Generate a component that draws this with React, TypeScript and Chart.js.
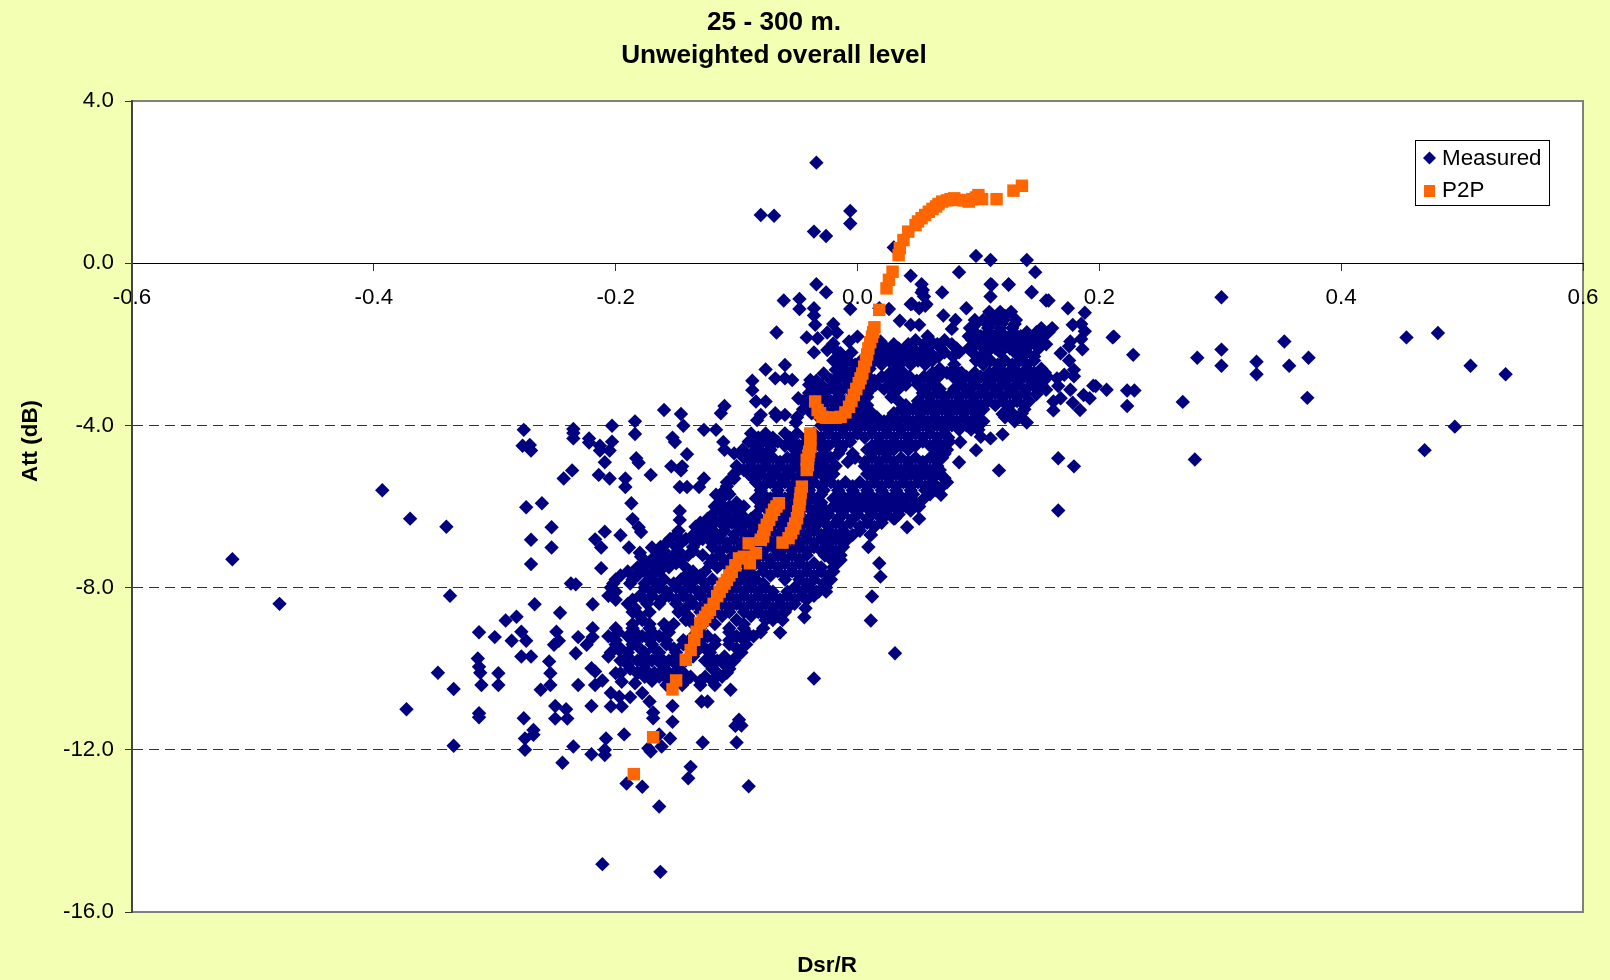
import React, { useEffect, useRef } from "react";
import { Chart, registerables } from "chart.js";

Chart.register(...registerables);

const chartTitle = ["25 - 300 m.", "Unweighted overall level"];
const xAxisTitle = "Dsr/R";
const yAxisTitle = "Att (dB)";
const seriesNames = ["Measured", "P2P"];

// Measured: scattered points read one by one [Dsr/R, Att]
const measuredScatter: number[][] = [
  [-.517,-7.3],[-.478,-8.4],[-.393,-5.6],[-.37,-6.3],[-.34,-6.5],[-.337,-8.2],[-.347,-10.1],[-.373,-11],[-.334,-10.5],[-.334,-11.9],
  [-.313,-9.1],[-.314,-9.75],[-.313,-9.95],[-.312,-10.1],[-.3,-9.22],[-.297,-10.11],[-.297,-10.4],[-.313,-11.1],[-.313,-11.2],
  [-.291,-8.81],[-.282,-8.72],[-.286,-9.31],[-.278,-9.09],[-.274,-9.31],[-.278,-9.7],[-.27,-9.7],[-.276,-11.22],[-.268,-11.51],[-.268,-11.63],[-.275,-11.72],[-.275,-12],
  [-.276,-4.11],[-.235,-4.09],[-.235,-4.19],[-.235,-4.32],[-.277,-4.5],[-.271,-4.48],[-.27,-4.62],[-.222,-4.32],[-.222,-4.42],[-.203,-4.01],[-.203,-4.4],
  [-.213,-4.5],[-.213,-4.62],[-.205,-4.62],[-.184,-3.9],[-.184,-4.21],[-.16,-3.62],[-.146,-3.72],[-.144,-4.01],[-.153,-4.3],[-.151,-4.41],[-.127,-4.11],[-.117,-4.11],
  [-.11,-3.52],[-.113,-3.7],[-.111,-4.41],[-.11,-4.6],[-.102,-4.69],[-.141,-4.71],[-.209,-4.91],[-.183,-4.81],[-.181,-4.92],[-.236,-5.11],[-.243,-5.31],[-.214,-5.22],[-.205,-5.31],
  [-.171,-5.22],[-.154,-5.01],[-.145,-5.01],[-.146,-5.11],[-.192,-5.31],[-.192,-5.52],[-.147,-5.52],[-.141,-5.52],[-.131,-5.52],[-.127,-5.31],[-.102,-5.31],[-.117,-5.71],[-.108,-5.63],
  [-.187,-5.92],[-.274,-6.02],[-.261,-5.92],[-.147,-6.11],[-.147,-6.33],[-.186,-6.31],[-.253,-6.51],[-.181,-6.51],[-.179,-6.63],[-.209,-6.62],[-.196,-6.71],[-.217,-6.81],[-.212,-7.01],
  [-.27,-6.82],[-.253,-7.01],[-.189,-7.01],[-.17,-7.01],[-.18,-7.14],[-.179,-7.24],[-.27,-7.42],[-.212,-7.52],[-.17,-7.42],[-.233,-7.92],[-.237,-7.9],[-.267,-8.41],[-.219,-8.41],[-.246,-8.62],
  [-.249,-9.09],[-.247,-9.31],[-.251,-9.41],[-.231,-9.22],[-.224,-9.41],[-.219,-9.22],[-.219,-9],[-.233,-9.62],[-.255,-9.82],[-.254,-10.11],[-.311,-10.4],
  [-.254,-10.4],[-.262,-10.52],[-.231,-10.4],[-.217,-10.4],[-.211,-10.29],[-.22,-9.99],[-.217,-10.07],[-.206,-9.7],[-.197,-9.54],[-.196,-10.11],[-.195,-10.32],[-.2,-10.11],
  [-.184,-10.36],[-.182,-10.11],[-.204,-10.6],[-.197,-10.69],[-.188,-10.7],[-.178,-10.6],[-.172,-10.81],[-.195,-10.93],[-.204,-10.93],[-.22,-10.92],[-.25,-10.92],[-.241,-11],[-.25,-11.23],[-.24,-11.23],
  [-.235,-11.92],[-.22,-12.11],[-.209,-12],[-.209,-12.13],[-.244,-12.32],[-.208,-11.72],[-.193,-11.62],[-.169,-11.08],[-.169,-11.22],[-.153,-10.92],[-.153,-11.31],[-.164,-11.62],[-.155,-11.72],
  [-.162,-11.92],[-.173,-11.96],[-.171,-12.04],[-.138,-12.42],[-.14,-12.7],[-.191,-12.83],[-.178,-12.91],[-.164,-13.4],[-.211,-14.82],[-.163,-15.01],[-.105,-10.52],[-.129,-10.81],[-.124,-10.81],
  [-.128,-11.82],[-.1,-11.82],[-.101,-11.41],[-.098,-11.26],[-.096,-11.4],[-.09,-12.9],[-.036,-10.24],[.031,-9.62],[.011,-8.81],[.012,-8.22],[.018,-7.4],[.019,-7.73],[.009,-7],
  [-.043,-8.51],[-.044,-8.73],[-.062,-8.8],[-.064,-9.11],[-.075,-8.72],[-.027,-6.76],[-.025,-6.99],[-.027,-7.21],[-.014,-7.32],[-.011,-6.74],[.011,-6.7],[-.026,-8.1],[-.032,-8.1],
  [-.034,2.48],[-.08,1.19],[-.069,1.17],[-.006,1.29],[-.006,.98],[-.036,.78],[-.026,.67],[.03,.39],[.098,.18],[.11,.08],[.14,.08],[.084,-.22],[.147,-.22],[.044,-.31],[.053,-.52],[.11,-.52],[.125,-.52],
  [-.034,-.52],[-.026,-.72],[.07,-.72],[.144,-.72],[.053,-.72],[-.061,-.92],[-.048,-.88],[-.048,-1.13],[-.036,-1.11],[-.006,-1.13],[.026,-1.13],[.018,-1.11],[.156,-.92],[.044,-1.01],[.051,-1.11],[.057,-1.01],
  [.09,-1.11],[-.036,-1.29],[-.035,-1.52],[.071,-1.29],[.081,-1.4],[.078,-1.62],[.097,-1.4],[.035,-1.42],[.044,-1.52],[.051,-1.52],[-.02,-1.5],[-.025,-1.71],[-.017,-1.71],[-.067,-1.71],[-.042,-1.83],[-.036,-2.2],
  [-.076,-2.62],[-.06,-2.51],[-.068,-2.84],[-.06,-2.84],[-.054,-2.88],[-.087,-2.9],[-.087,-3.13],[-.084,-3.41],[-.076,-3.41],[-.049,-3.33],[-.08,-3.74],[-.083,-3.87],[-.068,-3.7],[-.06,-3.74],[-.067,-3.78],[-.051,-3.93],
  [-.039,-2.88],[-.028,-2.72],[-.018,-2.63],[-.033,-3.13],[-.022,-2.88],[0,-1.81],[-.007,-1.93],[-.02,-1.98],[-.025,-2.14],[-.033,-1.85],[-.014,-2.22],[.019,-1.93],[.016,-2.14],
  [.111,-.53],[.144,-.71],[.158,-.92],[.174,-1.11],[.188,-1.22],[.125,-.53],[.11,-.82],[.054,-.66],[.055,-.82],[.045,-1],[.056,-1.05],[.212,-1.81],[.178,-1.52],[.185,-1.5],[.188,-1.68],[.185,-1.87],
  [.176,-1.93],[.175,-2.05],[.186,-2.12],[.168,-2.22],[.175,-2.4],[.179,-2.63],[.171,-2.75],[.179,-2.79],[.165,-2.84],[.197,-3.03],[.206,-3.12],[.166,-3.03],[.176,-3.12],[.187,-3.25],[.192,-3.33],
  [.168,-3.33],[.162,-3.41],[.162,-3.63],[.178,-3.44],[.184,-3.62],[.148,-3.23],[.156,-3.12],[.14,-3.93],[.12,-3.72],[.12,-4.22],[.11,-4.32],[.102,-4.28],[.099,-3.82],[.1,-4.11],[.085,-4.41],[.098,-4.61],
  [.084,-4.91],[.117,-5.11],[.166,-4.81],[.179,-5.01],[.166,-6.1],[.069,-5.71],[.051,-6],[.051,-6.3],[.041,-6.51],[.031,-6.29],[.019,-6.27],[.011,-6.7],
  [.228,-2.26],[.211,-1.83],[.223,-3.14],[.229,-3.14],[.223,-3.52],[.195,-3.02],[.269,-3.42],[.281,-2.33],[.279,-4.84],[.301,-.84],[.301,-2.13],[.301,-2.53],[.33,-2.43],[.33,-2.74],[.353,-1.93],[.357,-2.53],
  [.373,-2.33],[.372,-3.32],[.454,-1.83],[.48,-1.72],[.507,-2.53],[.536,-2.74],[.494,-4.03],[.469,-4.61],
];

// Measured: dense band, read row by row [Att, Dsr/R values]
const measuredBand: [number, number[]][] = [
  [-1.2,[.109,.118,.127]],
  [-1.3,[.112,.122]],
  [-1.4,[.104,.113,.121,.131]],
  [-1.5,[.098,.109,.119,.13]],
  [-1.6,[.093,.108,.118,.128,.152,.161]],
  [-1.7,[.097,.108,.118,.129,.14,.148,.158]],
  [-1.8,[.058,.092,.102,.113,.122,.135,.143,.154]],
  [-1.9,[.048,.06,.072,.095,.107,.116,.127,.138,.149]],
  [-2,[.03,.042,.055,.066,.078,.098,.11,.12,.132,.143,.156]],
  [-2.1,[.024,.034,.046,.058,.069,.082,.092,.104,.114,.126,.137,.15]],
  [-2.2,[-.016,-.005,.018,.028,.04,.052,.06,.072,.084,.095,.107,.118,.13,.14]],
  [-2.3,[-.012,.008,.022,.034,.046,.056,.067,.079,.102,.136,.146]],
  [-2.4,[-.02,-.008,.003,.014,.026,.038,.05,.062,.098,.11,.122,.134,.146]],
  [-2.5,[-.014,-.002,.008,.02,.032,.044,.056,.08,.104,.116,.128,.14]],
  [-2.6,[-.012,-.001,.01,.033,.068,.08,.116,.128,.14,.152]],
  [-2.7,[-.006,.004,.027,.038,.062,.074,.086,.097,.109,.121,.133,.146,.155]],
  [-2.8,[-.014,-.003,.009,.02,.032,.043,.055,.067,.079,.09,.102,.114,.126,.138,.15,.157]],
  [-2.9,[-.034,-.02,-.008,.003,.014,.026,.037,.049,.061,.084,.096,.108,.12,.132,.144,.154]],
  [-3,[-.04,-.03,-.018,-.006,.006,.015,.028,.04,.05,.062,.086,.097,.11,.122,.133,.145,.152]],
  [-3.1,[-.034,-.023,-.012,0,.011,.022,.034,.056,.068,.08,.092,.104,.116,.128,.14,.149]],
  [-3.2,[-.04,-.028,-.016,-.004,.008,.03,.054,.066,.078,.09,.102,.114,.126,.138]],
  [-3.3,[-.04,-.028,-.016,-.004,.008,.028,.06,.072,.084,.096,.108,.12,.132]],
  [-3.4,[-.045,-.034,-.022,-.01,.002,.034,.05,.06,.072,.084,.096,.108,.12,.132,.142]],
  [-3.5,[-.04,-.028,-.016,-.004,.008,.04,.054,.066,.078,.09,.102,.114,.126,.138]],
  [-3.6,[-.045,-.03,-.018,-.006,.006,.036,.046,.058,.07,.082,.094,.104,.124,.138]],
  [-3.7,[-.038,-.024,-.012,0,.012,.03,.04,.052,.064,.076,.088,.1,.128,.136]],
  [-3.8,[-.05,-.032,-.02,-.008,.004,.016,.028,.04,.052,.064,.076,.088,.098,.122,.134]],
  [-3.9,[-.026,-.014,-.002,.01,.022,.034,.046,.058,.07,.082,.094,.104,.13]],
  [-4,[-.03,-.018,-.006,.006,.018,.03,.042,.054,.066,.078,.09,.1]],
  [-4.1,[-.024,-.012,0,.012,.024,.036,.048,.06,.072,.084,.094]],
  [-4.2,[-.088,-.076,-.06,-.05,-.036,-.024,-.012,0,.012,.024,.036,.048,.06,.072]],
  [-4.3,[-.082,-.07,-.056,-.042,-.03,-.018,-.006,.006,.018,.03,.042,.054,.066,.075]],
  [-4.4,[-.09,-.078,-.066,-.054,-.042,-.03,-.018,-.006,.018,.03,.042,.054,.066,.076]],
  [-4.5,[-.084,-.072,-.06,-.048,-.036,-.024,-.012,.012,.024,.036,.048,.06,.072]],
  [-4.6,[-.095,-.082,-.072,-.052,-.04,-.028,-.014,.008,.018,.03,.042,.064,.074]],
  [-4.7,[-.088,-.076,-.05,-.04,-.028,-.016,-.004,.012,.024,.064,.072]],
  [-4.8,[-.094,-.082,-.07,-.058,-.046,-.034,-.022,-.002,.012,.024,.036,.048,.06,.07]],
  [-4.9,[-.088,-.076,-.064,-.052,-.04,-.028,-.008,.006,.018,.03,.042,.054,.066]],
  [-5,[-.1,-.088,-.076,-.064,-.052,-.04,-.03,-.018,.006,.018,.03,.042,.054,.066]],
  [-5.1,[-.094,-.082,-.07,-.058,-.046,-.034,-.024,.012,.024,.036,.048,.06,.068]],
  [-5.2,[-.102,-.09,-.08,-.068,-.056,-.044,-.03,-.02,.008,.02,.032,.044,.056,.068]],
  [-5.3,[-.104,-.086,-.074,-.062,-.05,-.038,-.026,.014,.026,.038,.05,.062,.072]],
  [-5.4,[-.108,-.084,-.072,-.06,-.048,-.036,-.022,-.01,.002,.014,.026,.038,.05,.062,.074]],
  [-5.5,[-.108,-.078,-.066,-.054,-.042,-.03,-.016,-.004,.008,.02,.032,.044,.056,.07]],
  [-5.6,[-.11,-.08,-.066,-.054,-.04,-.028,-.016,-.004,.008,.02,.032,.044,.056,.065]],
  [-5.7,[-.106,-.078,-.066,-.054,-.042,-.03,-.014,-.002,.01,.022,.034,.046,.06]],
  [-5.8,[-.112,-.084,-.072,-.06,-.048,-.036,-.02,-.008,.004,.016,.028,.04,.055]],
  [-5.9,[-.114,-.1,-.078,-.066,-.054,-.042,-.03,-.014,-.002,.01,.022,.034,.048]],
  [-6,[-.118,-.106,-.094,-.08,-.068,-.056,-.044,-.032,-.02,-.008,.004,.016,.028,.04,.05]],
  [-6.1,[-.112,-.1,-.074,-.062,-.05,-.038,-.026,-.014,-.002,.01,.022,.034,.044]],
  [-6.2,[-.12,-.108,-.096,-.084,-.072,-.06,-.048,-.034,-.024,-.012,0,.012,.024,.034]],
  [-6.3,[-.124,-.112,-.1,-.088,-.076,-.064,-.052,-.04,-.028,-.016,-.004,.008,.02,.03]],
  [-6.4,[-.13,-.118,-.104,-.092,-.08,-.068,-.056,-.044,-.032,-.018,-.006,.008,.02]],
  [-6.5,[-.134,-.124,-.11,-.098,-.086,-.074,-.062,-.05,-.038,-.024,-.012,.002,.014]],
  [-6.6,[-.148,-.13,-.12,-.11,-.096,-.084,-.072,-.06,-.048,-.036,-.024,-.012,.002]],
  [-6.7,[-.15,-.136,-.124,-.116,-.102,-.09,-.078,-.066,-.054,-.042,-.03,-.018,-.004]],
  [-6.8,[-.155,-.142,-.128,-.114,-.102,-.09,-.078,-.066,-.054,-.042,-.03,-.018,-.008]],
  [-6.9,[-.158,-.146,-.134,-.12,-.108,-.096,-.084,-.072,-.06,-.048,-.036,-.024,-.012]],
  [-7,[-.163,-.15,-.136,-.12,-.108,-.096,-.084,-.07,-.06,-.048,-.036,-.024,-.012]],
  [-7.1,[-.16,-.148,-.136,-.114,-.102,-.09,-.078,-.064,-.054,-.042,-.03,-.018]],
  [-7.2,[-.165,-.152,-.14,-.128,-.114,-.1,-.09,-.078,-.066,-.054,-.042,-.014]],
  [-7.3,[-.17,-.158,-.146,-.12,-.106,-.094,-.084,-.072,-.06,-.048,-.022]],
  [-7.4,[-.175,-.162,-.15,-.122,-.11,-.098,-.084,-.072,-.06,-.048,-.036,-.018]],
  [-7.5,[-.182,-.168,-.156,-.142,-.116,-.104,-.09,-.078,-.066,-.054,-.042,-.03,-.02]],
  [-7.6,[-.19,-.176,-.164,-.136,-.126,-.104,-.092,-.078,-.066,-.054,-.042,-.03,-.02]],
  [-7.7,[-.196,-.182,-.17,-.142,-.13,-.098,-.086,-.072,-.06,-.048,-.036,-.024]],
  [-7.8,[-.2,-.186,-.172,-.16,-.146,-.134,-.12,-.106,-.094,-.084,-.06,-.048,-.036,-.022]],
  [-7.9,[-.202,-.188,-.176,-.166,-.152,-.14,-.126,-.112,-.1,-.09,-.078,-.042,-.028]],
  [-8,[-.204,-.176,-.164,-.15,-.138,-.126,-.112,-.1,-.088,-.076,-.052,-.04,-.026]],
  [-8.1,[-.2,-.17,-.158,-.144,-.132,-.12,-.106,-.094,-.082,-.07,-.058,-.046,-.034]],
  [-8.2,[-.206,-.18,-.17,-.156,-.144,-.13,-.118,-.106,-.094,-.082,-.07,-.058,-.046,-.036]],
  [-8.3,[-.2,-.186,-.176,-.162,-.15,-.138,-.124,-.112,-.1,-.088,-.076,-.064,-.052,-.042]],
  [-8.4,[-.19,-.174,-.164,-.15,-.136,-.124,-.112,-.1,-.088,-.076,-.064,-.052]],
  [-8.5,[-.184,-.142,-.13,-.118,-.106,-.094,-.082,-.07,-.058]],
  [-8.6,[-.186,-.172,-.148,-.13,-.118,-.106,-.094,-.082,-.07,-.06]],
  [-8.7,[-.18,-.14,-.124,-.112,-.088,-.076,-.066]],
  [-8.8,[-.178,-.142,-.124,-.1,-.076,-.07]],
  [-8.9,[-.186,-.172,-.16,-.152,-.136,-.118,-.094]],
  [-9,[-.2,-.186,-.172,-.158,-.13,-.106,-.094,-.078]],
  [-9.1,[-.198,-.184,-.17,-.156,-.13,-.106,-.092,-.08]],
  [-9.2,[-.206,-.19,-.178,-.164,-.136,-.124,-.1,-.086]],
  [-9.3,[-.2,-.184,-.172,-.158,-.144,-.13,-.118,-.106,-.094]],
  [-9.4,[-.2,-.186,-.17,-.158,-.144,-.13,-.118,-.106,-.092]],
  [-9.5,[-.196,-.18,-.168,-.152,-.138,-.126,-.1]],
  [-9.6,[-.204,-.19,-.176,-.164,-.15,-.134,-.122,-.096]],
  [-9.7,[-.19,-.176,-.164,-.15,-.136,-.122,-.11,-.1]],
  [-9.8,[-.196,-.182,-.17,-.156,-.142,-.126,-.116,-.102]],
  [-9.9,[-.19,-.176,-.162,-.15,-.122,-.11]],
  [-10,[-.188,-.176,-.16,-.148,-.12,-.106]],
  [-10.1,[-.182,-.168,-.156,-.144,-.116,-.108]],
  [-10.2,[-.176,-.164,-.15,-.138,-.126,-.112]],
  [-10.3,[-.17,-.156,-.142,-.13,-.12]],
  [-10.4,[-.158,-.145,-.13,-.118]],
];

// P2P prediction [Dsr/R, Att]
const p2pPoints: number[][] = [
  [-.185,-12.6],[-.169,-11.69],[-.153,-10.51],[-.15,-10.29],[-.142,-9.78],[-.138,-9.54],[-.135,-9.29],[-.133,-9.09],[-.13,-8.88],[-.128,-8.8],[-.126,-8.72],[-.124,-8.62],[-.122,-8.55],[-.119,-8.4],[-.116,-8.21],[-.114,-8.1],[-.112,-7.98],[-.11,-7.9],
  [-.108,-7.81],[-.106,-7.7],[-.104,-7.61],[-.101,-7.45],[-.098,-7.28],[-.094,-7.24],[-.089,-7.4],[-.09,-6.91],[-.084,-7.15],[-.08,-6.82],[-.078,-6.74],[-.077,-6.58],[-.075,-6.45],[-.073,-6.33],[-.071,-6.2],[-.069,-6.08],[-.067,-6],[-.065,-5.92],
  [-.062,-6.89],[-.057,-6.78],[-.055,-6.66],[-.053,-6.54],[-.0515,-6.42],[-.05,-6.29],[-.049,-6.12],[-.048,-5.96],[-.0475,-5.82],[-.047,-5.67],[-.046,-5.51],[-.042,-5.1],[-.041,-4.98],[-.042,-4.85],[-.0405,-4.75],[-.04,-4.65],[-.039,-4.53],[-.039,-4.36],[-.039,-4.2],
  [-.035,-3.41],[-.033,-3.62],[-.031,-3.7],[-.029,-3.79],[-.026,-3.81],[-.022,-3.81],[-.018,-3.81],[-.014,-3.79],[-.01,-3.68],[-.007,-3.54],[-.005,-3.4],[-.003,-3.25],[-.001,-3.1],[.001,-2.96],[.0025,-2.84],[.004,-2.72],[.0055,-2.55],[.007,-2.39],[.008,-2.25],[.009,-2.1],[.0105,-1.95],[.012,-1.81],[.013,-1.7],[.014,-1.58],
  [.018,-1.15],[.024,-.62],[.026,-.41],[.029,-.21],[.034,.2],[.035,.37],[.038,.57],[.042,.78],[.048,.94],[.05,1.03],[.053,1.11],[.056,1.19],[.059,1.27],[.062,1.34],[.065,1.4],[.067,1.46],[.07,1.52],[.074,1.55],[.077,1.58],[.08,1.6],[.084,1.56],[.088,1.55],[.092,1.52],[.095,1.58],[.098,1.62],
  [.1,1.68],[.103,1.58],[.115,1.58],[.129,1.79],[.136,1.91],
];

const xMin = -0.6, xMax = 0.6, xStep = 0.2;
const yMin = -16, yMax = 4, yStep = 4;

const measuredData = [
  ...measuredScatter.map(([x, y]) => ({ x, y })),
  ...measuredBand.flatMap(([y, xs]) => xs.map((x) => ({ x, y }))),
];
const p2pData = p2pPoints.map(([x, y]) => ({ x, y }));

const NAVY = "#000080";
const ORANGE = "#FF6600";
const PAGE = "#F3FFB3";
const FONT = "'Liberation Sans', Arial, sans-serif";

const framePlugin = {
  id: "frame",
  afterLayout(chart: any) {
    chart.titleBlock.left = 0;
    chart.titleBlock.right = 1548;
    const xt = chart.scales.xTitle;
    xt.left = 527;
    xt.right = 1127;
    const yt = chart.scales.yTitle;
    yt.left = 0;
    yt.top = 141;
    yt.bottom = 741;
  },
  beforeDraw(chart: any) {
    const { ctx, chartArea: a, width, height } = chart;
    ctx.save();
    ctx.fillStyle = PAGE;
    ctx.fillRect(0, 0, width, height);
    ctx.fillStyle = "#fff";
    ctx.fillRect(a.left, a.top, a.right - a.left, a.bottom - a.top);
    ctx.strokeStyle = "#808080";
    ctx.lineWidth = 2;
    ctx.strokeRect(a.left, a.top, a.right - a.left, a.bottom - a.top);
    ctx.restore();
  },
  afterDatasetsDraw(chart: any) {
    const { ctx } = chart;
    ctx.save();
    ctx.fillStyle = "#fff";
    ctx.fillRect(1415.5, 140.5, 134, 65);
    ctx.strokeStyle = "#000";
    ctx.lineWidth = 1;
    ctx.strokeRect(1415.5, 140.5, 134, 65);
    ctx.fillStyle = NAVY;
    ctx.beginPath();
    ctx.moveTo(1429.5, 151.5);
    ctx.lineTo(1436, 158);
    ctx.lineTo(1429.5, 164.5);
    ctx.lineTo(1423, 158);
    ctx.closePath();
    ctx.fill();
    ctx.fillStyle = ORANGE;
    ctx.fillRect(1424, 185, 11, 12);
    ctx.fillStyle = "#000";
    ctx.font = `22.4px ${FONT}`;
    ctx.textBaseline = "middle";
    ctx.textAlign = "left";
    ctx.fillText(seriesNames[0], 1442, 159);
    ctx.fillText(seriesNames[1], 1442, 191);
    ctx.restore();
  },
};

export default function App() {
  const ref = useRef<HTMLCanvasElement | null>(null);

  useEffect(() => {
    document.body.style.margin = "0";
    document.body.style.background = PAGE;
    const chart = new Chart(ref.current as HTMLCanvasElement, {
      type: "scatter",
      data: {
        datasets: [
          {
            label: seriesNames[0],
            data: measuredData,
            xAxisID: "x",
            yAxisID: "y",
            order: 2,
            pointStyle: "rectRot",
            pointRadius: 7.2,
            pointBorderWidth: 0,
            pointBackgroundColor: NAVY,
            showLine: false,
          },
          {
            label: seriesNames[1],
            data: p2pData,
            xAxisID: "x",
            yAxisID: "y",
            order: 1,
            pointStyle: "rect",
            pointRadius: 8.8,
            pointBorderWidth: 0,
            pointBackgroundColor: ORANGE,
            showLine: false,
          },
        ],
      },
      options: {
        responsive: false,
        animation: false,
        layout: { autoPadding: false, padding: { top: 5.75, left: 0, right: 27, bottom: 0 } },
        plugins: {
          legend: { display: false },
          tooltip: { enabled: false },
          title: {
            display: true,
            text: chartTitle,
            color: "#000",
            font: { family: FONT, size: 26.2, weight: "bold", lineHeight: 1.279 },
            padding: { top: 0, bottom: 28.25 },
          },
        },
        scales: {
          x: {
            type: "linear",
            position: { y: 0 },
            min: xMin,
            max: xMax,
            afterFit: (s: any) => { s.paddingRight = 0; s.paddingLeft = 0; },
            border: { color: "#000", width: 1 },
            grid: { drawOnChartArea: false, drawTicks: true, tickLength: 7, tickColor: "#333", tickWidth: 1 },
            ticks: {
              stepSize: xStep,
              autoSkip: false,
              maxRotation: 0,
              padding: 14,
              color: "#000",
              font: { family: FONT, size: 22.4 },
              callback: (v: any) => Number(v).toFixed(1),
            },
          },
          y: {
            type: "linear",
            position: "left",
            min: yMin,
            max: yMax,
            afterFit: (s: any) => { s.width = 132; },
            border: { color: "#444", width: 2, dash: [10, 6] },
            grid: {
              tickLength: 7,
              tickColor: "#333",
              tickWidth: 1,
              lineWidth: 1,
              color: (c: any) => ([-4, -8, -12].includes(Math.round(c.tick.value)) ? "#333" : "transparent"),
            },
            ticks: {
              stepSize: yStep,
              padding: 11,
              color: "#000",
              font: { family: FONT, size: 22.4 },
              callback: (v: any) => Number(v).toFixed(1),
            },
          },
          xTitle: {
            type: "linear",
            axis: "x",
            position: "bottom",
            min: xMin,
            max: xMax,
            afterFit: (s: any) => { s.height = 68; },
            border: { display: false },
            grid: { display: false, drawTicks: false },
            ticks: { display: false },
            title: {
              display: true,
              text: xAxisTitle,
              color: "#000",
              font: { family: FONT, size: 22.4, weight: "bold" },
              padding: { top: 0, bottom: 1 },
            },
          },
          yTitle: {
            type: "linear",
            axis: "y",
            position: "left",
            min: yMin,
            max: yMax,
            afterFit: (s: any) => { s.width = 0; },
            border: { display: false },
            grid: { display: false, drawTicks: false },
            ticks: { display: false },
            title: {
              display: true,
              text: yAxisTitle,
              color: "#000",
              font: { family: FONT, size: 22.4, weight: "bold" },
              padding: { top: 17, bottom: 0 },
            },
          },
        },
      } as any,
      plugins: [framePlugin],
    } as any);
    return () => chart.destroy();
  }, []);

  return <canvas ref={ref} width={1610} height={980} style={{ display: "block" }} />;
}
